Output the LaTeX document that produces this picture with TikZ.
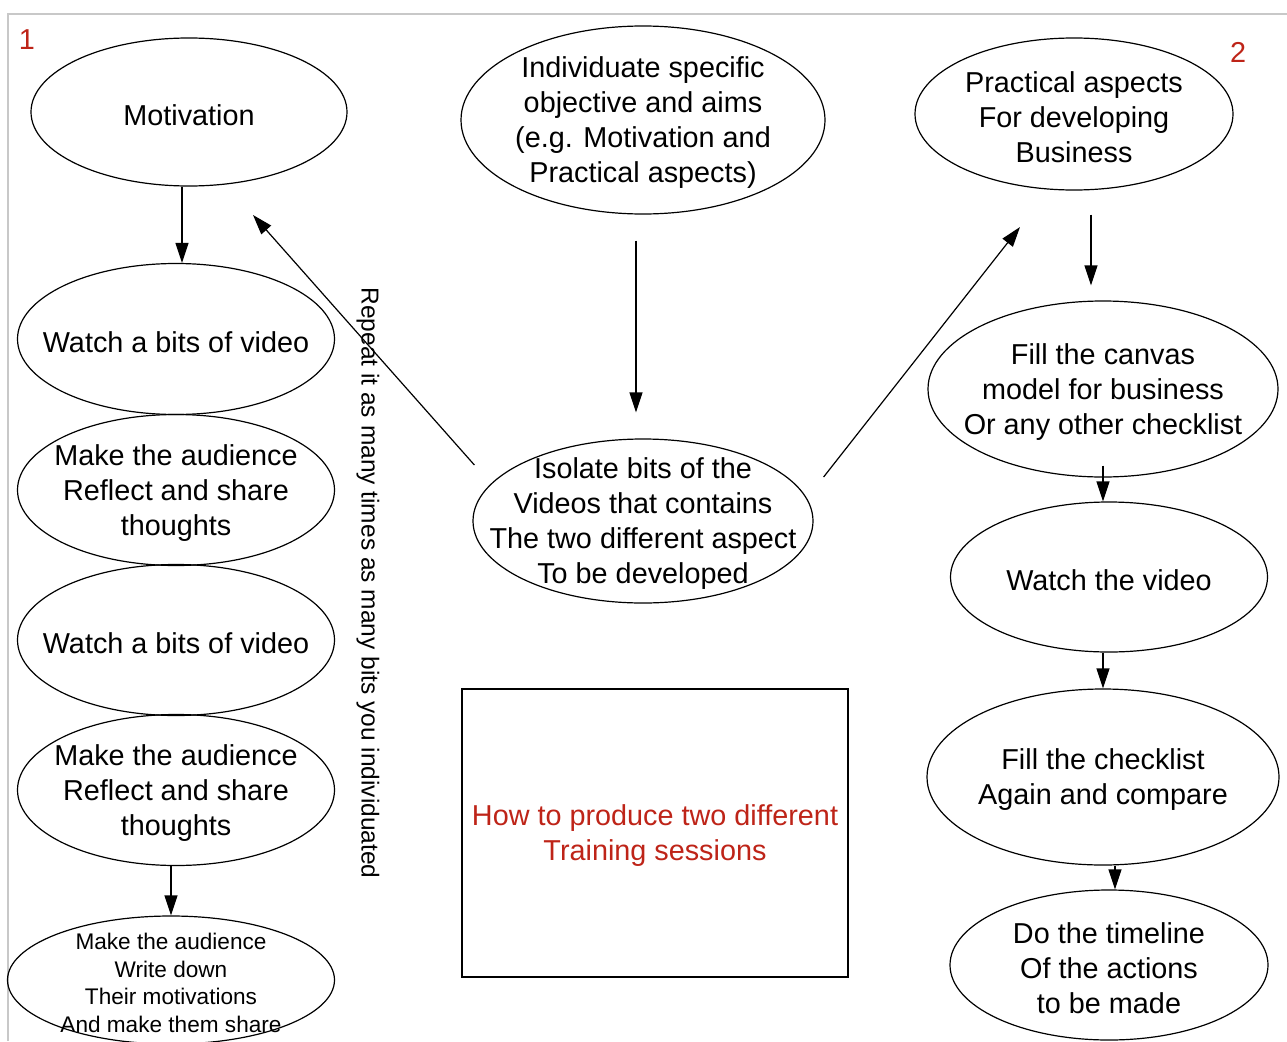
\documentclass[tikz,border=0pt]{standalone}
\usepackage{fontspec}
\setmainfont{Liberation Sans}
\usetikzlibrary{arrows.meta,positioning,shapes.geometric}
\definecolor{tRed}{HTML}{BE2418}
\definecolor{tFrame}{HTML}{C8C8C8}

\begin{document}
\begin{tikzpicture}[x=1pt, y=-1pt, line width=1.2pt,
  font=\fontsize{28.8pt}{35pt}\selectfont,
  oval/.style 2 args={draw, ellipse, minimum width=#1, minimum height=#2, inner sep=0pt},
  txt/.style={align=center, inner sep=0pt, yshift=-3pt},
  e/.style={-{Triangle[length=20pt, width=13pt]}, line width=1.2pt}]
\useasboundingbox (0,0) rectangle (1287,1041);
\clip (0,0) rectangle (1287,1041);
\draw[tFrame, line width=2pt] (8,1041) -- (8,14) -- (1287,14);
\node[tRed] (n1) at (27,40) {1};
\node[tRed] (n2) at (1238,52) {2};

% left column: motivation
\node[oval={316pt}{148pt}] (mot) at (189,112) {};
\node[txt] at (mot) {Motivation};
\node[oval={317pt}{151pt}] (wv1) at (176,339) {};
\node[txt] at (wv1) {Watch a bits of video};
\node[oval={317pt}{151pt}] (mk1) at (176,490) {};
\node[txt] at (mk1) {Make the audience\\Reflect and share\\thoughts};
\node[oval={317pt}{151pt}] (wv2) at (176,640) {};
\node[txt] at (wv2) {Watch a bits of video};
\node[oval={317pt}{151pt}] (mk2) at (176,790) {};
\node[txt] at (mk2) {Make the audience\\Reflect and share\\thoughts};
\node[oval={327pt}{128pt}] (share) at (171,980) {};
\node[txt, font=\fontsize{22.6pt}{27.5pt}\selectfont] at (share) {Make the audience\\Write down\\Their motivations\\And make them share};

% middle
\node[oval={364pt}{188pt}] (ind) at (643,120) {};
\node[txt] at (ind) {Individuate specific\\objective and aims\\(e.g. Motivation and\\Practical aspects)};
\node[oval={340pt}{164pt}] (iso) at (643,521) {};
\node[txt] at (iso) {Isolate bits of the\\Videos that contains\\The two different aspect\\To be developed};
\node[draw, line width=1.5pt, minimum width=386pt, minimum height=288pt, inner sep=0pt] (box) at (655,833) {};
\node[txt, tRed] at (box) {How to produce two different\\Training sessions};
\node[rotate=-90, font=\fontsize{24.5pt}{28pt}\selectfont] (rep) at (368,583) {Repeat it as many times as many bits you individuated};
\coordinate (toMot) at (253,215);
\coordinate (toPrac) at (1020,227);

% right column: practical aspects
\node[oval={318pt}{152pt}] (prac) at (1074,114) {};
\node[txt] at (prac) {Practical aspects\\For developing\\Business};
\node[oval={350pt}{176pt}] (canvas) at (1103,389) {};
\node[txt] at (canvas) {Fill the canvas\\model for business\\Or any other checklist};
\node[oval={317pt}{150pt}] (watch) at (1109,577) {};
\node[txt] at (watch) {Watch the video};
\node[oval={352pt}{176pt}] (check) at (1103,777) {};
\node[txt] at (check) {Fill the checklist\\Again and compare};
\node[oval={318pt}{150pt}] (time) at (1109,965) {};
\node[txt] at (time) {Do the timeline\\Of the actions\\ to be made};

\draw[e] ([xshift=-7pt]mot.south) -- ([xshift=-7pt]mot.south |- wv1.north);
\draw[e] ([xshift=-5pt]mk2.south) -- ([xshift=-5pt]mk2.south |- share.north);
\draw[e, shorten <=26pt, shorten >=26pt] ([xshift=-7pt]ind.south) -- ([xshift=-7pt]ind.south |- iso.north);
\draw[e] ([xshift=2pt, yshift=56pt]iso.west) -- (toMot);
\draw[e] ([xshift=10pt, yshift=44pt]iso.east) -- (toPrac);
\draw[e, shorten <=24pt, shorten >=15pt] ([xshift=17pt]prac.south) -- ([xshift=17pt]prac.south |- canvas.north);
\draw[e] ([yshift=12pt]canvas.south) -- (canvas.south |- watch.north);
\draw[e] (check.north |- watch.south) -- (check.north);
\draw[e] ([xshift=12pt]check.south) -- ([xshift=12pt]check.south |- time.north);
\end{tikzpicture}
\end{document}
